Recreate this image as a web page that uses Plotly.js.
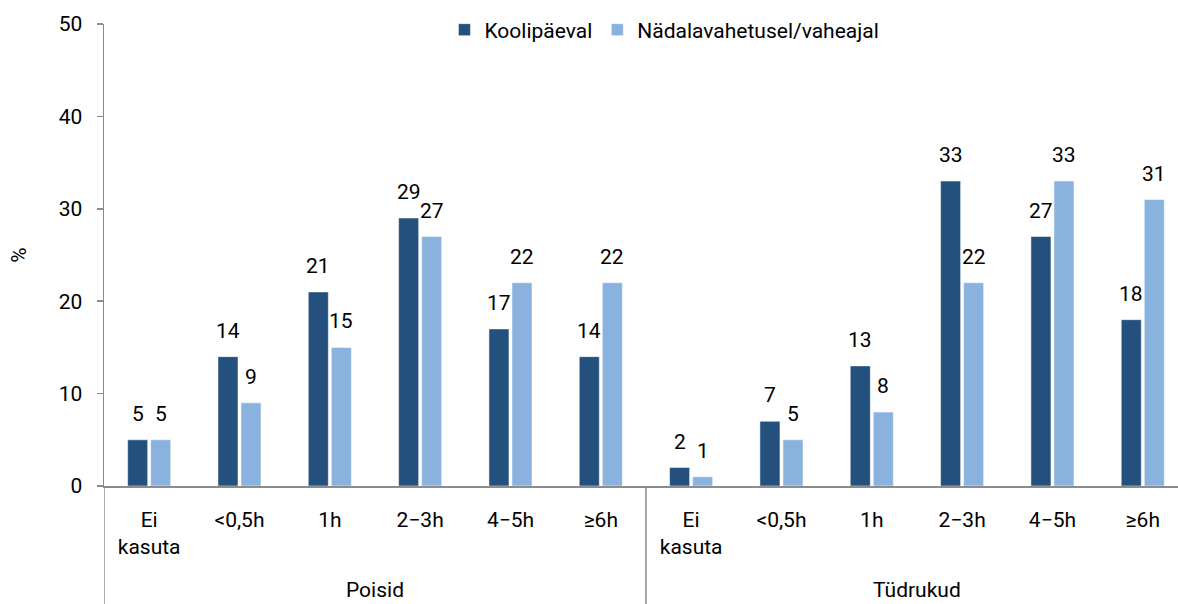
<!DOCTYPE html>
<html>
<head>
<meta charset="utf-8">
<script src="https://cdn.plot.ly/plotly-3.0.1.min.js"></script>
<style>html,body{margin:0;padding:0;background:#fff;}#chart{width:1178px;height:604px;}</style>
</head>
<body>
<div id="chart"></div>
<script>
const groups = ["Poisid", "Tüdrukud"];
const categories = ["Ei<br>kasuta", "<0,5h", "1h", "2−3h", "4−5h", "≥6h"];
const seriesNames = ["Koolipäeval", "Nädalavahetusel/vaheajal"];
const poisidKool = [5, 14, 21, 29, 17, 14];
const poisidNadal = [5, 9, 15, 27, 22, 22];
const tydrukudKool = [2, 7, 13, 33, 27, 18];
const tydrukudNadal = [1, 5, 8, 22, 33, 31];

const colors = ["#24507D", "#89B3DE"];
const FONT = "Roboto, 'DejaVu Sans', sans-serif";
const bargap = 0.49;

const tickLabels = categories.concat(categories);
const xIdx = tickLabels.map((_, i) => i);
const kool = poisidKool.concat(tydrukudKool);
const nadal = poisidNadal.concat(tydrukudNadal);
const seriesVals = [kool, nadal];

const traces = seriesVals.map((vals, s) => ({
  type: "bar",
  name: seriesNames[s],
  x: xIdx,
  y: vals,
  marker: {color: colors[s], line: {color: "#ffffff", width: 0.5}},
  hoverinfo: "y"
}));

const offset = (1 - bargap) / 4;
const annotations = [];
seriesVals.forEach((vals, s) => {
  vals.forEach((v, i) => {
    annotations.push({
      x: i + (s === 0 ? -offset : offset), y: v, xref: "x", yref: "y",
      text: String(v), showarrow: false, yanchor: "bottom", yshift: 12,
      font: {family: FONT, size: 21, color: "#000"}
    });
  });
});
groups.forEach((g, gi) => {
  annotations.push({
    x: gi * 6 + 2.5, y: -0.255, xref: "x", yref: "paper",
    text: g, showarrow: false, yanchor: "bottom",
    font: {family: FONT, size: 21, color: "#000"}
  });
});

const shapes = [-0.5, 5.5].map(xv => ({
  type: "line", xref: "x", yref: "paper", x0: xv, x1: xv, y0: 0, y1: -0.3,
  line: {color: "#8c8c8c", width: 1.5}
}));

const layout = {
  width: 1178, height: 604,
  margin: {l: 104, r: 0, t: 24, b: 118, autoexpand: false},
  paper_bgcolor: "#fff", plot_bgcolor: "#fff",
  font: {family: FONT, size: 21, color: "#000"},
  barmode: "group", bargap: bargap, bargroupgap: 0.13,
  showlegend: true,
  legend: {orientation: "h", x: 0.317, xanchor: "left", y: 0.987, yanchor: "middle",
           bgcolor: "rgba(0,0,0,0)",
           font: {family: FONT, size: 21, color: "#000"}, itemwidth: 30, traceorder: "normal"},
  xaxis: {
    range: [-0.5, 11.39], tickmode: "array", tickvals: xIdx, ticktext: tickLabels,
    showline: true, linecolor: "#8c8c8c", linewidth: 1.5, ticks: "", showgrid: false,
    ticklabelstandoff: 14,
    zeroline: false, tickfont: {family: FONT, size: 21, color: "#000"}, fixedrange: true
  },
  yaxis: {
    range: [0, 50], dtick: 10, tick0: 0, showline: true, linecolor: "#8c8c8c", linewidth: 1.5,
    ticks: "outside", ticklen: 6, tickcolor: "#8c8c8c", tickwidth: 1.5, showgrid: false,
    ticklabelstandoff: 10,
    zeroline: false, tickfont: {family: FONT, size: 21, color: "#000"},
    title: {text: "%", font: {family: FONT, size: 21, color: "#000"}, standoff: 26}
  },
  annotations: annotations,
  shapes: shapes
};

Plotly.newPlot("chart", traces, layout, {displayModeBar: false, staticPlot: true});
</script>
</body>
</html>
